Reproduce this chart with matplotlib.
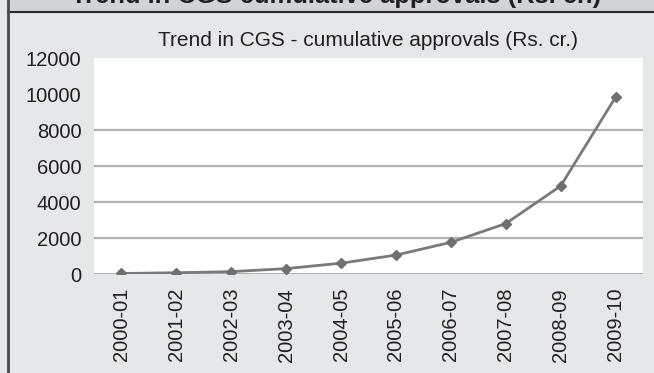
import matplotlib
matplotlib.use("Agg")
import matplotlib.pyplot as plt
from matplotlib.patches import Rectangle
from matplotlib.lines import Line2D

years = ["2000-01", "2001-02", "2002-03", "2003-04", "2004-05",
         "2005-06", "2006-07", "2007-08", "2008-09", "2009-10"]
approvals = [30, 70, 130, 300, 600, 1050, 1760, 2800, 4890, 9820]
yticks = [0, 2000, 4000, 6000, 8000, 10000, 12000]
grid_levels = [2000, 4000, 6000, 8000]

W, H = 654, 373
plt.rcParams['font.family'] = ['Liberation Sans', 'DejaVu Sans']
fig = plt.figure(figsize=(W / 100, H / 100), dpi=100)
fig.patch.set_facecolor('#e6e7e8')

# header band (its bold caption is cut off at the top edge, as in the reference)
fig.patches.append(Rectangle((8 / W, 1 - 11.5 / H), 1, 11.5 / H,
                             transform=fig.transFigure, color='#d2d3d5', zorder=0))
fig.text(336 / W, 1 - 2.5 / H, "Trend in CGS cumulative approvals (Rs. cr.)",
         ha='center', va='baseline', fontsize=18.4, fontweight='bold', color='#231f20')
fig.lines.append(Line2D([8 / W, 1], [1 - 11.5 / H, 1 - 11.5 / H],
                        transform=fig.transFigure, color='#2b2b2b', lw=1.5))
fig.lines.append(Line2D([7.5 / W, 7.5 / W], [0, 1],
                        transform=fig.transFigure, color='#4a4a4a', lw=2))

left, right = 94 / W, 643 / W
bottom, top = (H - 274) / H, (H - 58) / H
ax = fig.add_axes([left, bottom, right - left, top - bottom])
ax.set_facecolor('white')
x = list(range(len(years)))
for g in grid_levels:
    ax.axhline(g, color='#b3b3b3', lw=1.6, zorder=1)
ax.axhline(0, color='#a8a8a8', lw=2, zorder=1)
ax.plot(x, approvals, color='#7a7a7a', lw=2, marker='D', markersize=5,
        markerfacecolor='#6f6f6f', markeredgecolor='#6f6f6f', zorder=3)
ax.set_xlim(-0.5, len(years) - 0.5)
ax.set_ylim(0, 12000)
ax.set_yticks(yticks)
ax.set_yticklabels([str(v) for v in yticks])
ax.set_xticks(x)
ax.set_xticklabels(years, rotation=90)
ax.tick_params(axis='both', length=0, labelsize=14.5, colors='#231f20')
ax.tick_params(axis='y', pad=9)
ax.tick_params(axis='x', pad=10)
for s in ax.spines.values():
    s.set_visible(False)

fig.text(368 / W, 1 - 40 / H, "Trend in CGS - cumulative approvals (Rs. cr.)",
         ha='center', va='center', fontsize=15, color='#231f20')

fig.savefig("out.png", dpi=100, facecolor=fig.get_facecolor())
